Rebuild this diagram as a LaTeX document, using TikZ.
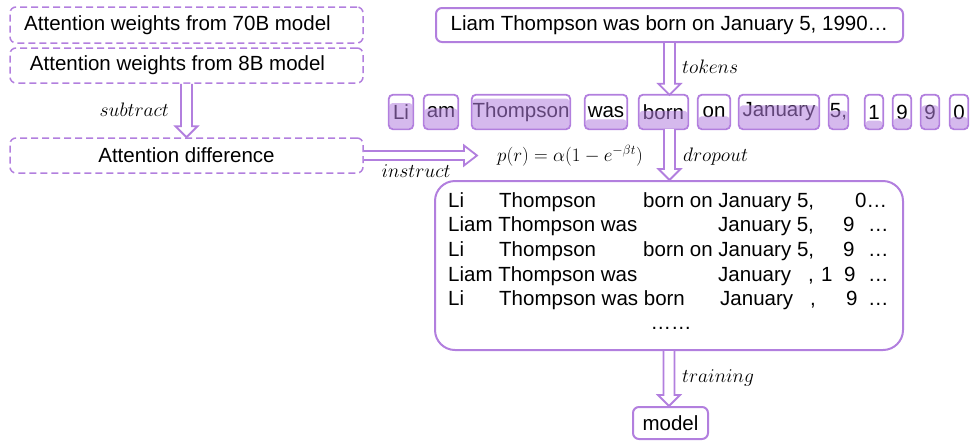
\RequirePackage{fix-cm}
\documentclass[tikz,border=0pt]{standalone}
\usepackage{fontspec}
\setmainfont{Liberation Sans}
\usetikzlibrary{calc}
\definecolor{pborder}{RGB}{178,127,222}
\tikzset{
 base/.style={font=\fontsize{20.5}{24}\selectfont, text=black},
 dashbox/.style={base, draw=pborder, line width=1.5pt, dash pattern=on 7pt off 4pt, rounded corners=6pt, inner sep=0pt, minimum width=353pt},
 solidbox/.style={base, draw=pborder, line width=2pt, rounded corners=6pt, inner sep=0pt},
 tokbox/.style={base, inner sep=0pt, minimum height=34pt},
 tokline/.style={draw=pborder, line width=1.8pt, rounded corners=4pt},
 tokfill/.style={fill=pborder, fill opacity=0.55},
 hollow/.style={draw=pborder, line width=1.8pt, fill=white, line join=miter},
 lab/.style={font=\fontsize{19.5}{22}\selectfont, inner sep=0pt},
 row/.style={base, anchor=base west, inner sep=0pt},
}
\newcommand\tokn[5]{%
 \node[tokbox, minimum width=#3pt] (#1) at (#2,112) {#5};
 \fill[tokfill, rounded corners=3pt] ([shift={(0.9pt,0.9pt)}]#1.south west) rectangle ([shift={(-0.9pt,#4*34pt)}]#1.south east);
 \draw[tokline] (#1.south west) rectangle (#1.north east);
}
\newcommand\wrd[4]{\node[row] (#1) at (#2,#3) {#4};}
\newcommand\vhollow[2]{%
 \draw[hollow] let \p1=(#1), \p2=(#2) in
 (\x1-5.5pt,\y1) -- (\x1-5.5pt,\y2+11pt) -- (\x1-11pt,\y2+11pt) -- (\x1,\y2)
 -- (\x1+11pt,\y2+11pt) -- (\x1+5.5pt,\y2+11pt) -- (\x1+5.5pt,\y1);}
\newcommand\hhollow[2]{%
 \draw[hollow] let \p1=(#1), \p2=(#2) in
 (\x1,\y1+4.5pt) -- (\x2-13pt,\y1+4.5pt) -- (\x2-13pt,\y1+10pt) -- (\x2,\y1)
 -- (\x2-13pt,\y1-10pt) -- (\x2-13pt,\y1-4.5pt) -- (\x1,\y1-4.5pt);}
\begin{document}
\begin{tikzpicture}[x=1pt,y=-1pt]
\useasboundingbox (0,0) rectangle (976,445);
% left column
\node[dashbox, minimum height=36pt] (w70) at (186.5,25) {Attention weights from 70B model\hspace*{18pt}};
\node[dashbox, minimum height=35pt] (w8) at (186.5,65.5) {Attention weights from 8B model\hspace*{18pt}};
\node[dashbox, minimum height=35pt] (diff) at (186.5,155.5) {Attention difference};
% right column
\node[solidbox, minimum width=467pt, minimum height=34pt] (sent) at (669.5,25) {Liam Thompson was born on January 5, 1990…};
\tokn{li}{401}{24}{0.77}{Li}
\tokn{am}{441}{34}{0.61}{am}
\tokn{thompson}{521}{98}{0.9}{Thompson}
\tokn{was}{606}{42}{0.29}{was}
\tokn{born}{663.5}{49}{0.54}{born}
\tokn{on}{714}{32}{0.38}{on}
\tokn{january}{779}{80}{0.7}{January}
\tokn{five}{838.5}{19}{0.55}{5,}
\tokn{one}{874}{18}{0.25}{1}
\tokn{nineA}{902}{18}{0.32}{9}
\tokn{nineB}{930}{18}{0.7}{9}
\tokn{zero}{959}{18}{0.36}{0}
\node[base, inner sep=0pt, anchor=west] (formula) at (497,156) {\fontsize{19}{22}\selectfont $p(r)=\alpha(1-e^{-\beta t})$};
\node[solidbox, rounded corners=20pt, minimum width=468pt, minimum height=169pt] (main) at (669,265.5) {};
\node[solidbox, minimum width=75pt, minimum height=32pt] (model) at (670.5,423) {model};
% rows
\wrd{ra1}{448}{207}{Li}
\wrd{ra2}{499}{207}{Thompson}
\wrd{ra3}{643}{207}{born on January 5,}
\wrd{ra4}{855}{207}{0…}
\wrd{rb1}{448}{231.5}{Liam Thompson was}
\wrd{rb2}{718}{231.5}{January 5,}
\wrd{rb3}{843}{231.5}{9}
\wrd{rb4}{868}{231.5}{…}
\wrd{rc1}{448}{256}{Li}
\wrd{rc2}{499}{256}{Thompson}
\wrd{rc3}{643}{256}{born on January 5,}
\wrd{rc4}{843}{256}{9}
\wrd{rc5}{868}{256}{…}
\wrd{rd1}{448}{281}{Liam Thompson was}
\wrd{rd2}{718}{281}{January}
\wrd{rd3}{808}{281}{,}
\wrd{rd4}{821}{281}{1}
\wrd{rd5}{844}{281}{9}
\wrd{rd6}{868}{281}{…}
\wrd{re1}{448}{305.5}{Li}
\wrd{re2}{499}{305.5}{Thompson was born}
\wrd{re3}{720}{305.5}{January}
\wrd{re4}{810}{305.5}{,}
\wrd{re5}{846}{305.5}{9}
\wrd{re6}{868}{305.5}{…}
\node[base, anchor=base, inner sep=0pt] (dots) at (671,329) {……};
% arrows
\vhollow{w8.south}{diff.north}
\vhollow{sent.south}{sent.south |- born.north}
\vhollow{sent.south |- born.south}{sent.south |- main.north}
\vhollow{main.south}{main.south |- model.north}
\coordinate (itip) at (477,155.5);
\hhollow{diff.east}{itip}
% labels
\node[lab, anchor=east] (lsub) at (169,110) {$subtract$};
\node[lab, anchor=west] (ltok) at (682,67) {$tokens$};
\node[lab, anchor=west] (ldrop) at (683,157) {$dropout$};
\node[lab] (linstr) at (416,171) {$instruct$};
\node[lab, anchor=west] (ltrain) at (682,378) {$training$};
\end{tikzpicture}
\end{document}
